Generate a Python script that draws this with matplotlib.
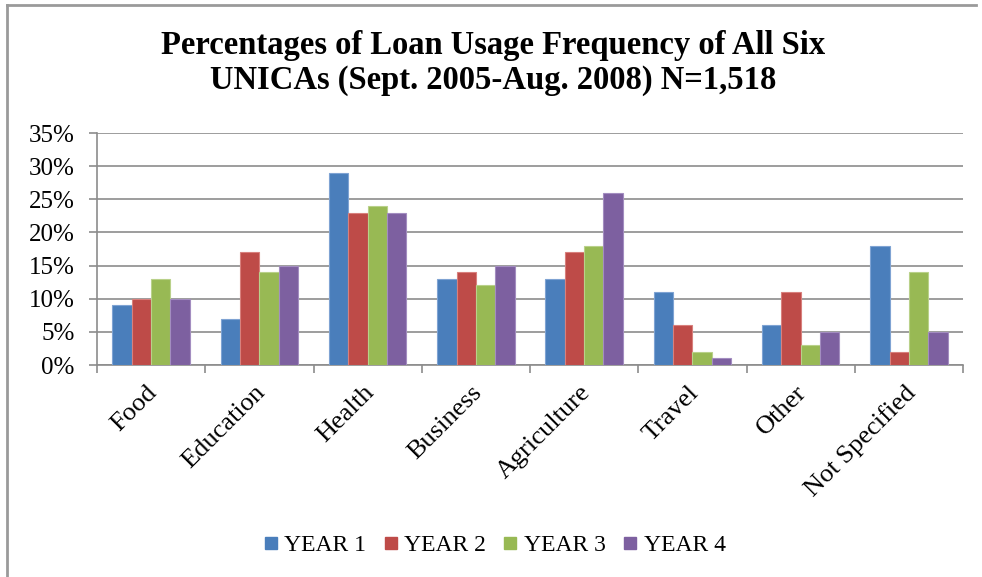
import matplotlib
matplotlib.use("Agg")
import matplotlib.pyplot as plt
import matplotlib.transforms as mtransforms
import numpy as np
from matplotlib.lines import Line2D
from matplotlib.ticker import FuncFormatter, MultipleLocator

categories = ["Food", "Education", "Health", "Business", "Agriculture", "Travel", "Other", "Not Specified"]
series_names = ["YEAR 1", "YEAR 2", "YEAR 3", "YEAR 4"]
year1 = [9, 7, 29, 13, 13, 11, 6, 18]
year2 = [10, 17, 23, 14, 17, 6, 11, 2]
year3 = [13, 14, 24, 12, 18, 2, 3, 14]
year4 = [10, 15, 23, 15, 26, 1, 5, 5]
series = [year1, year2, year3, year4]
colors = ["#4A7EBB", "#BE4B48", "#98B954", "#7D60A0"]
edges = ["#7FA3D3", "#D8807D", "#B9D18A", "#A38DC0"]

plt.rcParams['font.family'] = ['Liberation Serif', 'DejaVu Serif']

fig = plt.figure(figsize=(9.82, 5.77), dpi=100)
ax = fig.add_axes([97/982, 1 - 365/577, (963-97)/982, (365-133)/577])

x = np.arange(len(categories))
bw = 1/5.6
for i, (vals, c, e) in enumerate(zip(series, colors, edges)):
    ax.bar(x + (i - 1.5) * bw, vals, width=bw, color=c, edgecolor=e, linewidth=0.8,
           label=series_names[i], zorder=3)

ax.set_xlim(-0.5, len(categories) - 0.5)
ax.set_ylim(0, 35)
ax.yaxis.set_major_locator(MultipleLocator(5))
ax.yaxis.set_major_formatter(FuncFormatter(lambda v, p: f"{int(round(v))}%"))
ax.grid(axis='y', color='#8C8C8C', linewidth=1.2, zorder=0)
for s in ['top', 'right']:
    ax.spines[s].set_visible(False)
for s in ['left', 'bottom']:
    ax.spines[s].set_color('#8C8C8C')
    ax.spines[s].set_linewidth(1.2)
ax.set_xticks(np.arange(len(categories) + 1) - 0.5, minor=False)
ax.set_xticklabels([])
ax.tick_params(axis='x', which='major', length=6, color='#8C8C8C', width=1.2, direction='out')
ax.set_xticks(x, minor=True)
ax.set_xticklabels(categories, minor=True, rotation=45, ha='right', va='top',
                   rotation_mode='anchor', fontsize=19)
ax.tick_params(axis='x', which='minor', length=0, pad=12)
offset = mtransforms.ScaledTranslation(-5/100, 0, fig.dpi_scale_trans)
for lbl in ax.get_xticklabels(minor=True):
    lbl.set_transform(lbl.get_transform() + offset)
ax.tick_params(axis='y', length=6, color='#8C8C8C', width=1.2, labelsize=18, pad=10)

fig.text(0.502, 1 - 63/577, "Percentages of Loan Usage Frequency of All Six\nUNICAs (Sept. 2005-Aug. 2008) N=1,518",
         ha='center', va='center', fontsize=23.5, fontweight='bold', linespacing=1.12)

handles = [Line2D([0], [0], marker='s', linestyle='none', markersize=8.5,
                  markerfacecolor=c, markeredgecolor=c) for c in colors]
fig.legend(handles, series_names, loc='center', bbox_to_anchor=(0.504, 1 - 545/577),
           ncol=4, frameon=False, fontsize=17, handletextpad=0.3, columnspacing=0.75,
           handlelength=0.55)

# outer border (left and top visible in reference)
fig.add_artist(Line2D([7/982, 7/982], [0, 1 - 5/577], transform=fig.transFigure, color='#9A9A9A', linewidth=2))
fig.add_artist(Line2D([7/982, 976/982], [1 - 5/577, 1 - 5/577], transform=fig.transFigure, color='#9A9A9A', linewidth=2))

fig.savefig("out.png", dpi=100)
